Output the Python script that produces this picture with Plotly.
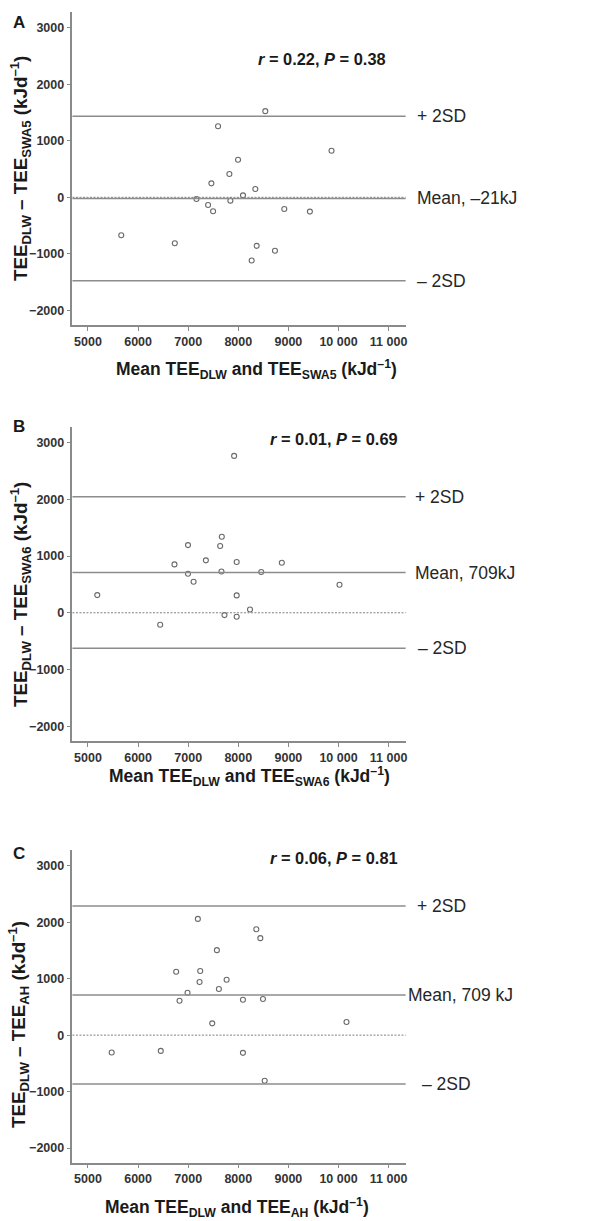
import plotly.graph_objects as go

W, H = 592, 1221

# ---------------- data ----------------
panel_letters = ["A", "B", "C"]
stats_text = ["<i>r</i> = 0.22, <i>P</i> = 0.38",
              "<i>r</i> = 0.01, <i>P</i> = 0.69",
              "<i>r</i> = 0.06, <i>P</i> = 0.81"]
subs = ["SWA5", "SWA6", "AH"]
mean_labels = ["Mean, –21kJ", "Mean, 709kJ", "Mean, 709 kJ"]

a_mean = [7596, 9861, 7995, 7822, 7463, 8340, 8094, 7165, 7842, 7397, 7497, 8918,
          9429, 5664, 6733, 8367, 8732, 8267, 8539]
a_diff = [1259, 824, 665, 412, 247, 147, 35, -29, -59, -135, -247, -206,
          -253, -671, -812, -859, -947, -1118, 1525]

b_mean = [7917, 7671, 6996, 7638, 6726, 7353, 7968, 8869, 6996, 7664, 8458, 7108,
          10020, 5185, 7968, 8234, 7724, 7968, 6441]
b_diff = [2765, 1339, 1193, 1178, 853, 924, 894, 882, 688, 729, 718, 547,
          494, 312, 306, 59, -41, -71, -212]

c_mean = [7193, 8360, 8440, 7573, 6760, 7240, 7227, 7767, 7613, 6987, 6827, 8093,
          8493, 7480, 10160, 5473, 6453, 8093, 8527]
c_diff = [2059, 1876, 1718, 1506, 1124, 1135, 941, 982, 818, 750, 610, 628,
          640, 209, 233, -308, -279, -314, -808]

means = [-21, 709, 709]
upper_2sd = [1436, 2046, 2290]
lower_2sd = [-1478, -626, -866]

x_tickvals = [5000, 6000, 7000, 8000, 9000, 10000, 11000]
x_ticktext = ["5000", "6000", "7000", "8000", "9000", "10 000", "11 000"]
y_tickvals = [-2000, -1000, 0, 1000, 2000, 3000]
y_ticktext = ["\u22122000", "\u22121000", "0", "1000", "2000", "3000"]

xs = [a_mean, b_mean, c_mean]
ys = [a_diff, b_diff, c_diff]

# ---------------- layout geometry (pixels) ----------------
x_dom = [72.7 / W, 407 / W]
y_doms_px = [(12, 325), (426.7, 741), (850, 1162.7)]
letter_px = [(19, 22.7), (19, 426.7), (19, 853.3)]
stats_px = [(323, 58.7), (335.5, 439.3), (335.5, 858.3)]
ytitle_px = [(20, 168), (20, 594), (18, 1024)]
xtitle_px = [(257, 370), (250, 776), (238, 1207)]
sdlabel_x = [(416, 416, 416), (414, 414, 417), (416, 407, 421.7)]

def py(p):
    return 1 - p / H

def px_(p):
    return p / W

LINE_C = "#8a8a8a"
TXT_C = "#262626"
FONT = "Liberation Sans, Arial, sans-serif"

fig = go.Figure()
annotations = []
shapes = []

for i in range(3):
    n = "" if i == 0 else str(i + 1)
    xa = "x" + n
    ya = "y" + n
    fig.add_trace(go.Scatter(
        x=xs[i], y=ys[i], mode="markers", xaxis=xa, yaxis=ya,
        marker=dict(symbol="circle-open", size=5, color="#6a6a6a",
                    line=dict(width=1.1, color="#6a6a6a")),
        showlegend=False, hoverinfo="skip"))

    top, bot = y_doms_px[i]
    fig.layout["xaxis" + n] = dict(
        domain=x_dom, anchor=ya, range=[4690, 11340],
        tickvals=x_tickvals, ticktext=x_ticktext,
        showline=True, linecolor=LINE_C, linewidth=1.5,
        ticks="outside", ticklen=4, tickcolor=LINE_C, tickwidth=1.2,
        showgrid=False, zeroline=False,
        tickfont=dict(family=FONT, size=12.5, color="#333333", weight="bold"))
    fig.layout["yaxis" + n] = dict(
        domain=[py(bot), py(top)], anchor=xa, range=[-2260, 3280],
        tickvals=y_tickvals, ticktext=y_ticktext,
        showline=True, linecolor=LINE_C, linewidth=1.5,
        ticks="outside", ticklen=4, tickcolor=LINE_C, tickwidth=1.2,
        showgrid=False, zeroline=False,
        tickfont=dict(family=FONT, size=12.5, color="#333333", weight="bold"))

    # zero reference (dotted) and mean / ±2SD lines
    shapes.append(dict(type="line", xref=xa + " domain", yref=ya,
                       x0=0, x1=1, y0=0, y1=0,
                       line=dict(color="#808080", width=1, dash="2px,1.5px")))
    for val in (upper_2sd[i], means[i], lower_2sd[i]):
        shapes.append(dict(type="line", xref=xa + " domain", yref=ya,
                           x0=0, x1=1, y0=val, y1=val,
                           line=dict(color="#8c8c8c", width=1.5)))

    lx = sdlabel_x[i]
    for val, txt, xx in ((upper_2sd[i], "+ 2SD", lx[0]),
                         (means[i], mean_labels[i], lx[1]),
                         (lower_2sd[i], "– 2SD", lx[2])):
        annotations.append(dict(xref="paper", yref=ya, x=px_(xx), y=val,
                                text=txt, showarrow=False, xanchor="left",
                                yanchor="middle",
                                font=dict(family=FONT, size=17.5, color=TXT_C)))

    lxp, lyp = letter_px[i]
    annotations.append(dict(xref="paper", yref="paper", x=px_(lxp), y=py(lyp),
                            text="<b>" + panel_letters[i] + "</b>", showarrow=False,
                            xanchor="center", yanchor="middle",
                            font=dict(family=FONT, size=17, color="#1a1a1a")))
    sx, sy = stats_px[i]
    annotations.append(dict(xref="paper", yref="paper", x=px_(sx), y=py(sy),
                            text="<b>" + stats_text[i] + "</b>", showarrow=False,
                            xanchor="center", yanchor="middle",
                            font=dict(family=FONT, size=16.4, color="#1a1a1a")))
    tx, ty = ytitle_px[i]
    annotations.append(dict(xref="paper", yref="paper", x=px_(tx), y=py(ty),
                            text="<b>TEE<sub>DLW</sub> – TEE<sub>" + subs[i] +
                                 "</sub> (kJd<sup>–1</sup>)</b>",
                            textangle=-90, showarrow=False,
                            xanchor="center", yanchor="middle",
                            font=dict(family=FONT, size=18.8, color="#1a1a1a")))
    qx, qy = xtitle_px[i]
    annotations.append(dict(xref="paper", yref="paper", x=px_(qx), y=py(qy),
                            text="<b>Mean TEE<sub>DLW</sub> and TEE<sub>" + subs[i] +
                                 "</sub> (kJd<sup>–1</sup>)</b>",
                            showarrow=False, xanchor="center", yanchor="middle",
                            font=dict(family=FONT, size=17.5, color="#1a1a1a")))

fig.update_layout(
    width=W, height=H, margin=dict(l=0, r=0, t=0, b=0),
    paper_bgcolor="white", plot_bgcolor="white",
    annotations=annotations, shapes=shapes, showlegend=False)

fig.write_html("out.html", config={"displayModeBar": False},
               post_script="document.body.style.margin='0';"
                           "document.body.style.overflow='hidden';")
